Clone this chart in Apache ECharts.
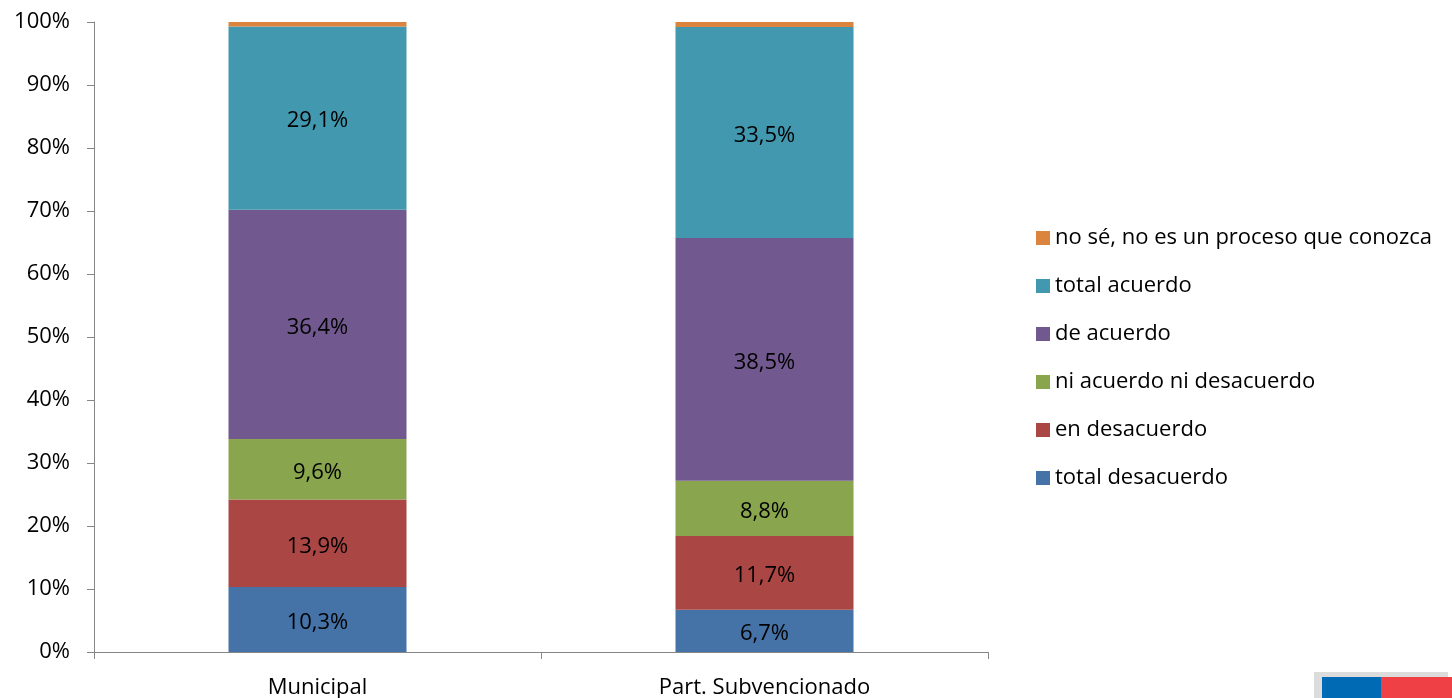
<!DOCTYPE html>
<html>
<head>
<meta charset="utf-8">
<script src="https://cdn.jsdelivr.net/npm/echarts@6/dist/echarts.min.js"></script>
<style>
html,body{margin:0;padding:0;background:#fff;}
#chart{width:1452px;height:698px;}
</style>
</head>
<body>
<div id="chart"></div>
<script>
const categories = ['Municipal', 'Part. Subvencionado'];
const seriesNames = ['total desacuerdo', 'en desacuerdo', 'ni acuerdo ni desacuerdo', 'de acuerdo', 'total acuerdo', 'no sé, no es un proceso que conozca'];
const totalDesacuerdo = [10.3, 6.7];
const enDesacuerdo = [13.9, 11.7];
const niAcuerdo = [9.6, 8.8];
const deAcuerdo = [36.4, 38.5];
const totalAcuerdo = [29.1, 33.5];
const noSe = [0.7, 0.8];
const yTicks = ['0%', '10%', '20%', '30%', '40%', '50%', '60%', '70%', '80%', '90%', '100%'];
const colors = ['#4572A7', '#AA4643', '#89A54E', '#71588F', '#4198AF', '#DB843D'];
const values = [totalDesacuerdo, enDesacuerdo, niAcuerdo, deAcuerdo, totalAcuerdo, noSe];
const showLabel = [true, true, true, true, true, false];

const font = '"Open Sans", "Noto Sans", sans-serif';
const fs = 22;
const chart = echarts.init(document.getElementById('chart'));
chart.setOption({
  animation: false,
  backgroundColor: '#fff',
  grid: {left: 94, right: 464, top: 22, bottom: 46, outerBoundsMode: 'none', containLabel: false},
  legend: {
    orient: 'vertical',
    left: 1031,
    top: 221,
    data: seriesNames.slice().reverse(),
    icon: 'rect',
    itemWidth: 14,
    itemHeight: 14,
    itemGap: 24,
    textStyle: {fontFamily: font, fontSize: fs, color: '#000', lineHeight: 24},
    selectedMode: false
  },
  xAxis: {
    type: 'category',
    data: categories,
    axisLine: {lineStyle: {color: '#868686'}},
    axisTick: {show: true, length: 7, lineStyle: {color: '#868686'}},
    axisLabel: {fontFamily: font, fontSize: fs, color: '#000', margin: 25}
  },
  yAxis: {
    type: 'value',
    min: 0, max: 100, interval: 10,
    axisLine: {show: true, lineStyle: {color: '#868686'}},
    axisTick: {show: true, length: 7, lineStyle: {color: '#868686'}},
    splitLine: {show: false},
    axisLabel: {
      fontFamily: font, fontSize: fs, color: '#000', margin: 24,
      formatter: function (v) { return yTicks[Math.round(v / 10)]; }
    }
  },
  series: values.map(function (arr, i) {
    return {
      name: seriesNames[i],
      type: 'bar',
      stack: 'total',
      barWidth: 178,
      data: arr,
      itemStyle: {color: colors[i]},
      label: {
        show: showLabel[i],
        position: 'inside',
        offset: [0, 3],
        fontFamily: font,
        fontSize: fs,
        color: '#000',
        formatter: function (p) { return p.value.toFixed(1).replace('.', ',') + '%'; }
      }
    };
  }),
  graphic: [
    {type: 'rect', shape: {x: 1314, y: 672, width: 134, height: 26}, style: {fill: '#dcdcdc'}, silent: true},
    {type: 'rect', shape: {x: 1322, y: 677, width: 59, height: 21}, style: {fill: '#006AB5'}, silent: true},
    {type: 'rect', shape: {x: 1381, y: 677, width: 71, height: 21}, style: {fill: '#EF4046'}, silent: true}
  ]
});
</script>
</body>
</html>
